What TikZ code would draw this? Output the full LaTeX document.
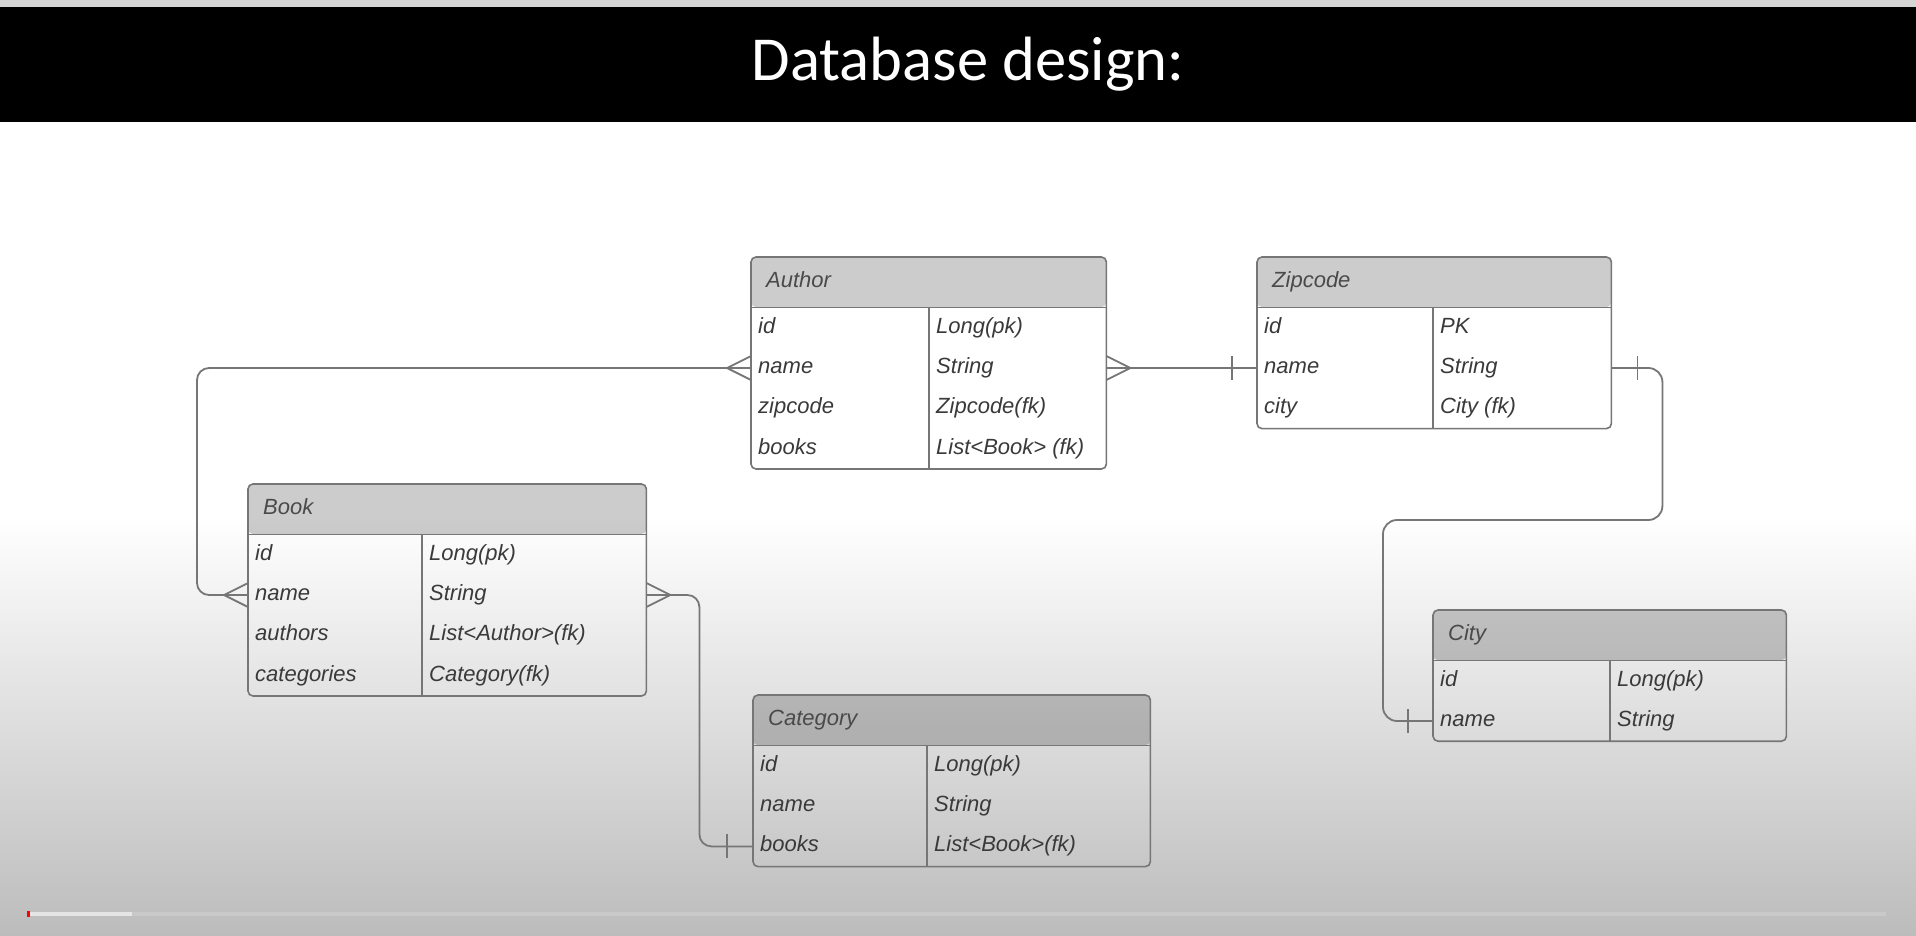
\documentclass[tikz,border=0pt]{standalone}
\usepackage{fontspec}
\newfontfamily\erfont{Liberation Sans}
\newfontfamily\slidefont{Carlito}
\usetikzlibrary{positioning,calc}

\definecolor{edgegray}{HTML}{767676}
\definecolor{txtgray}{HTML}{3A3A3A}
\definecolor{headtxt}{HTML}{4A4A4A}
\definecolor{bggray}{HTML}{BCBCBC}
\definecolor{stripgray}{HTML}{D5D5D5}
\definecolor{bargray}{HTML}{C9C9C9}

\begin{document}
\begin{tikzpicture}[x=1pt,y=-1pt,
		conn/.style={draw=edgegray,line width=1.8pt},
		tbl edge/.style={draw=edgegray,line width=1.6pt},
		tbl head/.style={rectangle,rounded corners=5pt,fill=black,fill opacity=0.2,text opacity=1,
			text=headtxt,font=\erfont\itshape\fontsize{22}{26}\selectfont,text height=16pt,text depth=5pt,
			minimum height=50pt,inner ysep=0pt,inner xsep=15pt,align=left,anchor=north west},
		tbl row/.style={rectangle,minimum height=40pt,inner sep=0pt},
		tbl text/.style={inner sep=0pt,text=txtgray,font=\erfont\itshape\fontsize{22}{26}\selectfont,
			text height=16pt,text depth=5pt},
		crowfoot/.pic={\draw[conn] (0,-12) -- (-24,0) -- (0,12);},
		onebar/.pic={\draw[conn] (0,-12) -- (0,12);}]
		\useasboundingbox (0,0) rectangle (1916,936);
		% slide background
		\fill[stripgray] (0,0) rectangle (1916,7);
		\fill[black] (0,7) rectangle (1916,122);
		\fill[white] (0,122) rectangle (1916,515);
		\shade[top color=white,bottom color=bggray] (0,515) rectangle (1916,936);
		\node[font=\slidefont\fontsize{62.6}{70}\selectfont,text=white,anchor=base,inner sep=0pt] (title) at (968,81) {Database design:};
		
		% Author
		\node[tbl head,text width=325pt] (A) at (751,257) {Author};
		\foreach \K/\V [count=\Y,remember=\Y as \LastY] in
		{id/Long(pk), name/String, zipcode/Zipcode(fk), books/List<Book> (fk)}
		{\ifnum\Y=1
			\node[tbl row,minimum width=355pt,below=0pt of A] (A-\Y) {};
			\else
			\node[tbl row,minimum width=355pt,below=0pt of A-\LastY] (A-\Y) {};
			\fi
			\node[tbl text,right=7pt of A-\Y.west] (A-\Y-k) {\K};
			\node[tbl text,right=185pt of A-\Y.west] (A-\Y-v) {\V};}
		\draw[tbl edge,rounded corners=5pt] (A.north west) rectangle (A-4.south east);
		\draw[tbl edge] (A.south west) -- (A.south east);
		\draw[tbl edge] ([xshift=178pt]A.south west) -- ([xshift=178pt]A-4.south west);
		
		% Zipcode
		\node[tbl head,text width=324pt] (Z) at (1257,257) {Zipcode};
		\foreach \K/\V [count=\Y,remember=\Y as \LastY] in
		{id/PK, name/String, city/City (fk)}
		{\ifnum\Y=1
			\node[tbl row,minimum width=354pt,below=0pt of Z] (Z-\Y) {};
			\else
			\node[tbl row,minimum width=354pt,below=0pt of Z-\LastY] (Z-\Y) {};
			\fi
			\node[tbl text,right=7pt of Z-\Y.west] (Z-\Y-k) {\K};
			\node[tbl text,right=183pt of Z-\Y.west] (Z-\Y-v) {\V};}
		\draw[tbl edge,rounded corners=5pt] (Z.north west) rectangle (Z-3.south east);
		\draw[tbl edge] (Z.south west) -- (Z.south east);
		\draw[tbl edge] ([xshift=176pt]Z.south west) -- ([xshift=176pt]Z-3.south west);
		
		% Book
		\node[tbl head,text width=368pt] (B) at (248,484) {Book};
		\foreach \K/\V [count=\Y,remember=\Y as \LastY] in
		{id/Long(pk), name/String, authors/List<Author>(fk), categories/Category(fk)}
		{\ifnum\Y=1
			\node[tbl row,minimum width=398pt,below=0pt of B] (B-\Y) {};
			\else
			\node[tbl row,minimum width=398pt,below=0pt of B-\LastY] (B-\Y) {};
			\fi
			\node[tbl text,right=7pt of B-\Y.west] (B-\Y-k) {\K};
			\node[tbl text,right=181pt of B-\Y.west] (B-\Y-v) {\V};}
		\draw[tbl edge,rounded corners=5pt] (B.north west) rectangle (B-4.south east);
		\draw[tbl edge] (B.south west) -- (B.south east);
		\draw[tbl edge] ([xshift=174pt]B.south west) -- ([xshift=174pt]B-4.south west);
		
		% Category
		\node[tbl head,text width=367pt] (K) at (753,695) {Category};
		\foreach \K/\V [count=\Y,remember=\Y as \LastY] in
		{id/Long(pk), name/String, books/List<Book>(fk)}
		{\ifnum\Y=1
			\node[tbl row,minimum width=397pt,below=0pt of K] (K-\Y) {};
			\else
			\node[tbl row,minimum width=397pt,below=0pt of K-\LastY] (K-\Y) {};
			\fi
			\node[tbl text,right=7pt of K-\Y.west] (K-\Y-k) {\K};
			\node[tbl text,right=181pt of K-\Y.west] (K-\Y-v) {\V};}
		\draw[tbl edge,rounded corners=5pt] (K.north west) rectangle (K-3.south east);
		\draw[tbl edge] (K.south west) -- (K.south east);
		\draw[tbl edge] ([xshift=174pt]K.south west) -- ([xshift=174pt]K-3.south west);
		
		% City
		\node[tbl head,text width=323pt] (C) at (1433,610) {City};
		\foreach \K/\V [count=\Y,remember=\Y as \LastY] in
		{id/Long(pk), name/String}
		{\ifnum\Y=1
			\node[tbl row,minimum width=353pt,below=0pt of C] (C-\Y) {};
			\else
			\node[tbl row,minimum width=353pt,below=0pt of C-\LastY] (C-\Y) {};
			\fi
			\node[tbl text,right=7pt of C-\Y.west] (C-\Y-k) {\K};
			\node[tbl text,right=184pt of C-\Y.west] (C-\Y-v) {\V};}
		\draw[tbl edge,rounded corners=5pt] (C.north west) rectangle (C-2.south east);
		\draw[tbl edge] (C.south west) -- (C.south east);
		\draw[tbl edge] ([xshift=177pt]C.south west) -- ([xshift=177pt]C-2.south west);
		
		% relations
		\draw[conn,rounded corners=12pt] (A-2.west) -- ++(-554,0) |- (B-2.west);
		\pic at (A-2.west) {crowfoot};
		\pic at (B-2.west) {crowfoot};
		\draw[conn] (A-2.east) -- (Z-2.west);
		\pic[rotate=180] at (A-2.east) {crowfoot};
		\pic at ([xshift=-25pt]Z-2.west) {onebar};
		\draw[conn,rounded corners=14pt] (Z-2.east) -- ++(51,0) -- ++(0,152) -| ([xshift=-50pt]C-2.west) -- (C-2.west);
		\pic at ([xshift=26pt]Z-2.east) {onebar};
		\pic at ([xshift=-25pt]C-2.west) {onebar};
		\draw[conn,rounded corners=12pt] (B-2.east) -- ++(53,0) |- (K-3.west);
		\pic[rotate=180] at (B-2.east) {crowfoot};
		\pic at ([xshift=-26pt]K-3.west) {onebar};
		
		% player bar
		\fill[bargray] (28,912) rectangle (1886,916);
		\fill[white!90!black] (28,912) rectangle (132,916);
		\fill[red] (27,911) rectangle (30,917);
\end{tikzpicture}
\end{document}
